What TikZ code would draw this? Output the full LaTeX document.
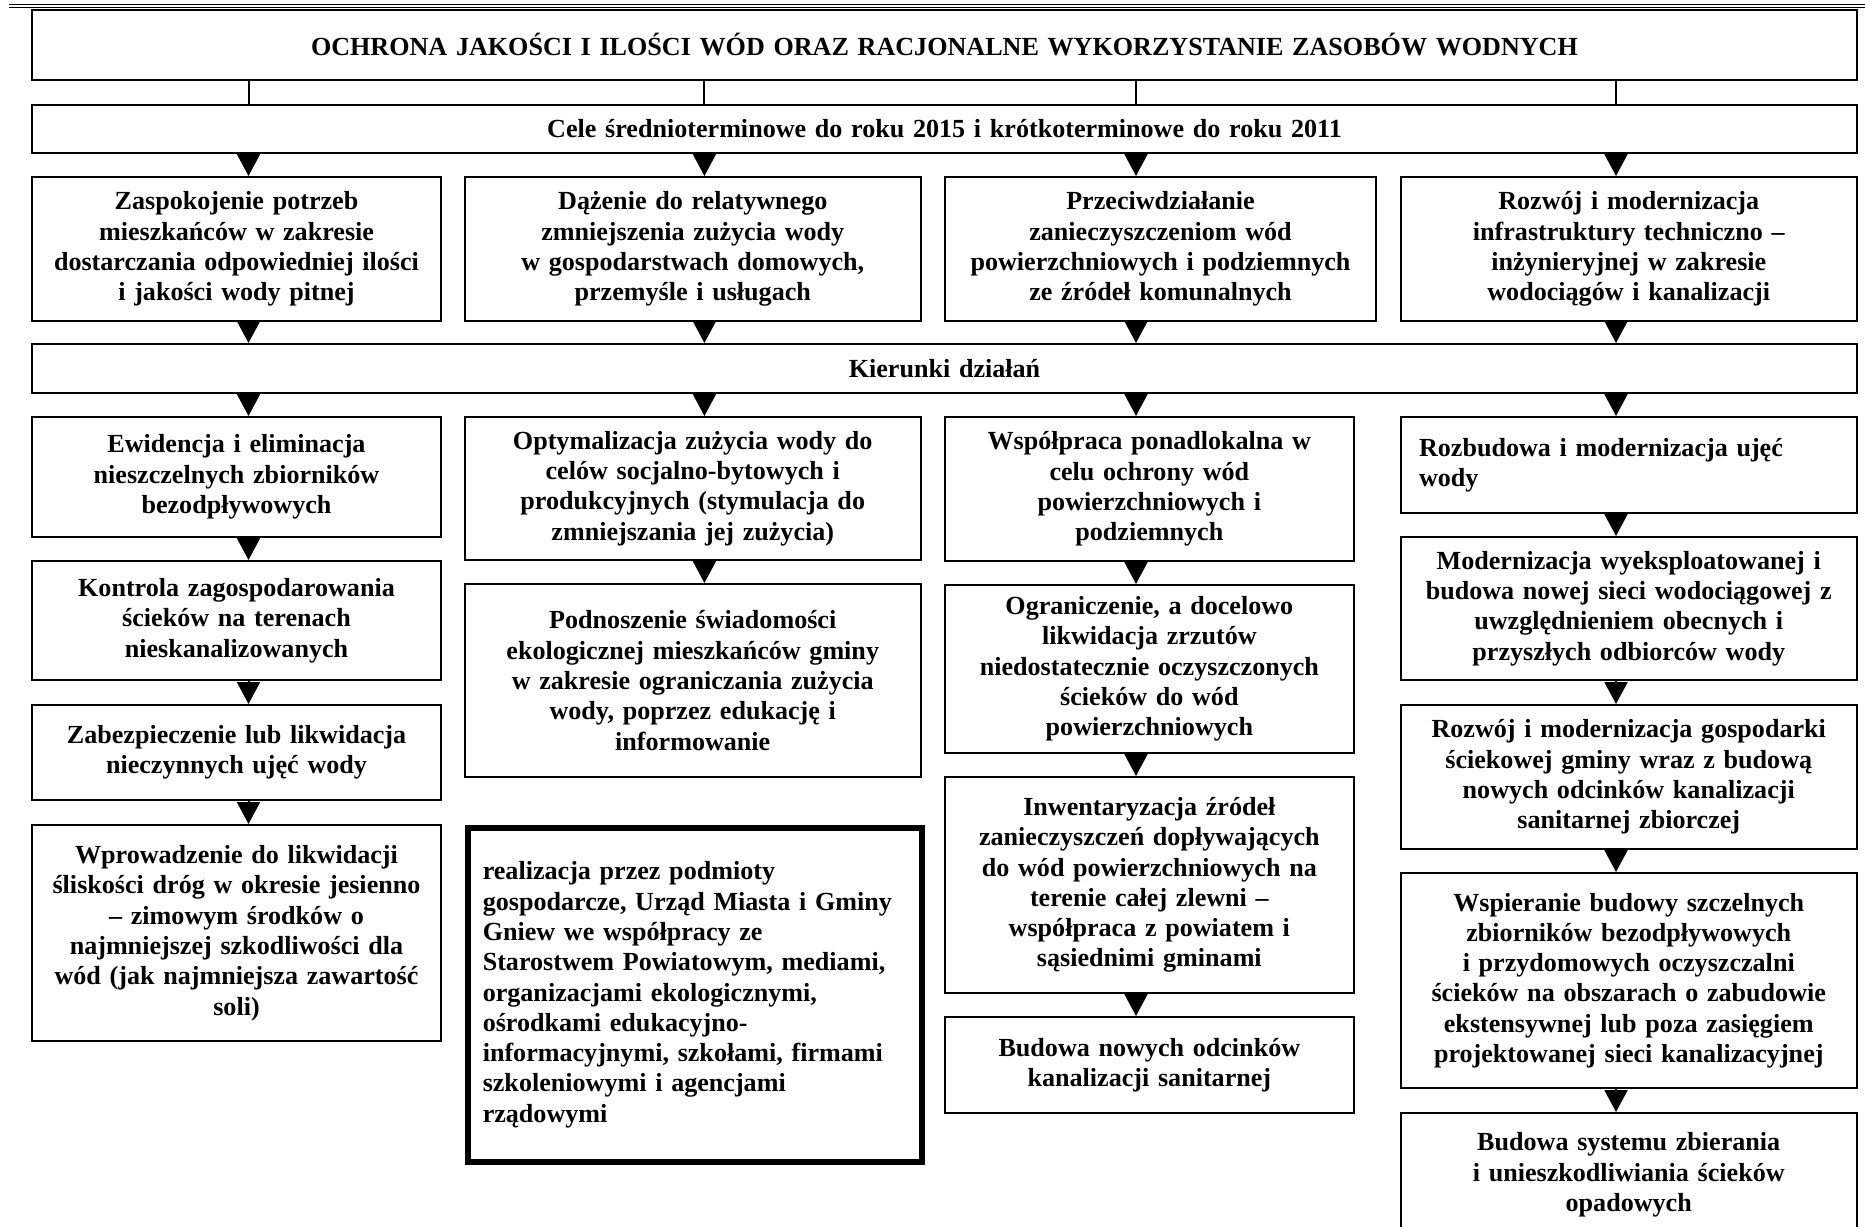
\documentclass[tikz,border=0pt]{standalone}
\usepackage{fontspec}
\setmainfont{Liberation Serif}
\usetikzlibrary{arrows.meta}

\begin{document}
\begin{tikzpicture}[x=1pt,y=-1pt,
		box/.style n args={2}{draw, line width=2pt, anchor=north west, inner sep=0pt, align=center,
			minimum width=#1, text width=#1, minimum height=#2,
			font=\fontsize{26.1}{30.3}\selectfont\bfseries},
		arr/.style={line width=2pt, -{Triangle[width=23pt,length=22pt]}}]
		\path[use as bounding box, clip] (0,0) rectangle (1865,1226);
		\draw[line width=1.6pt] (9,4.5)--(1865,4.5);
		\draw[line width=0.8pt] (9,7)--(1865,7);
		\coordinate (c1) at (248.5,0);
		\coordinate (c2) at (704.4,0);
		\coordinate (c3) at (1136,0);
		\coordinate (c4) at (1616,0);
		% naglowek
		\node[box={1825pt}{70pt}] (ochrona) at (31,9) {OCHRONA JAKOŚCI I ILOŚCI WÓD ORAZ RACJONALNE WYKORZYSTANIE ZASOBÓW WODNYCH};
		\node[box={1825pt}{48pt}] (cele) at (31,104) {Cele średnioterminowe do roku 2015 i krótkoterminowe do roku 2011};
		% cele
		\node[box={409pt}{144pt}] (celA) at (31,176) {Zaspokojenie potrzeb\\ mieszkańców w zakresie\\ dostarczania odpowiedniej ilości\\ i jakości wody pitnej};
		\node[box={456.5pt}{144pt}] (celB) at (463.5,176) {Dążenie do relatywnego\\ zmniejszenia zużycia wody\\ w gospodarstwach domowych,\\ przemyśle i usługach};
		\node[box={431pt}{144pt}] (celC) at (944,176) {Przeciwdziałanie\\ zanieczyszczeniom wód\\ powierzchniowych i podziemnych\\ ze źródeł komunalnych};
		\node[box={455.5pt}{144pt}] (celD) at (1400,176) {Rozwój i modernizacja\\ infrastruktury techniczno –\\ inżynieryjnej w zakresie\\ wodociągów i kanalizacji};
		\node[box={1825pt}{49pt}] (kierunki) at (31,343) {Kierunki działań};
		% kolumna 1
		\node[box={409pt}{120pt}] (ewid) at (31,416) {Ewidencja i eliminacja\\ nieszczelnych zbiorników\\ bezodpływowych};
		\node[box={409pt}{119pt}] (kontr) at (31,560) {Kontrola zagospodarowania\\ ścieków na terenach\\ nieskanalizowanych};
		\node[box={409pt}{95pt}] (zabezp) at (31,704) {Zabezpieczenie lub likwidacja\\ nieczynnych ujęć wody};
		\node[box={409pt}{216pt}] (slisk) at (31,824) {Wprowadzenie do likwidacji\\ śliskości dróg w okresie jesienno\\ – zimowym środków o\\ najmniejszej szkodliwości dla\\ wód (jak najmniejsza zawartość\\ soli)};
		% kolumna 2
		\node[box={456.5pt}{143pt}] (optym) at (463.5,416) {Optymalizacja zużycia wody do\\ celów socjalno-bytowych i\\ produkcyjnych (stymulacja do\\ zmniejszania jej zużycia)};
		\node[box={456.5pt}{193pt}] (swiad) at (463.5,583) {Podnoszenie świadomości\\ ekologicznej mieszkańców gminy\\ w zakresie ograniczania zużycia\\ wody, poprzez edukację i\\ informowanie};
		\node[box={424pt}{334pt}, line width=5.5pt, align=left, inner xsep=15pt] (realiz) at (465,825) {realizacja przez podmioty\\ gospodarcze, Urząd Miasta i Gminy\\ Gniew we współpracy ze\\ Starostwem Powiatowym, mediami,\\ organizacjami ekologicznymi,\\ ośrodkami edukacyjno-\\ informacyjnymi, szkołami, firmami\\ szkoleniowymi i agencjami\\ rządowymi};
		% kolumna 3
		\node[box={408.7pt}{144pt}] (wspol) at (944,416) {Współpraca ponadlokalna w\\ celu ochrony wód\\ powierzchniowych i\\ podziemnych};
		\node[box={408.7pt}{168pt}] (ogran) at (944,584) {Ograniczenie, a docelowo\\ likwidacja zrzutów\\ niedostatecznie oczyszczonych\\ ścieków do wód\\ powierzchniowych};
		\node[box={408.7pt}{216pt}] (inwent) at (944,776) {Inwentaryzacja źródeł\\ zanieczyszczeń dopływających\\ do wód powierzchniowych na\\ terenie całej zlewni –\\ współpraca z powiatem i\\ sąsiednimi gminami};
		\node[box={408.7pt}{96pt}] (budkan) at (944,1016) {Budowa nowych odcinków\\ kanalizacji sanitarnej};
		% kolumna 4
		\node[box={419.5pt}{96pt}, align=left, inner xsep=18pt] (ujecia) at (1400,416) {Rozbudowa i modernizacja ujęć\\ wody};
		\node[box={455.5pt}{143pt}] (siec) at (1400,536) {Modernizacja wyeksploatowanej i\\ budowa nowej sieci wodociągowej z\\ uwzględnieniem obecnych i\\ przyszłych odbiorców wody};
		\node[box={455.5pt}{144pt}] (gosp) at (1400,704) {Rozwój i modernizacja gospodarki\\ ściekowej gminy wraz z budową\\ nowych odcinków kanalizacji\\ sanitarnej zbiorczej};
		\node[box={455.5pt}{215pt}] (szczel) at (1400,872) {Wspieranie budowy szczelnych\\ zbiorników bezodpływowych\\ i przydomowych oczyszczalni\\ ścieków na obszarach o zabudowie\\ ekstensywnej lub poza zasięgiem\\ projektowanej sieci kanalizacyjnej};
		\node[box={455.5pt}{124pt}] (opad) at (1400,1112) {Budowa systemu zbierania\\ i unieszkodliwiania ścieków\\ opadowych};
		% polaczenia
		\draw[line width=2pt] (ochrona.south -| c1)--(cele.north -| c1);
		\draw[line width=2pt] (ochrona.south -| c2)--(cele.north -| c2);
		\draw[line width=2pt] (ochrona.south -| c3)--(cele.north -| c3);
		\draw[line width=2pt] (ochrona.south -| c4)--(cele.north -| c4);
		\draw[arr] (cele.south -| c1)--(celA.north -| c1);
		\draw[arr] (cele.south -| c2)--(celB.north -| c2);
		\draw[arr] (cele.south -| c3)--(celC.north -| c3);
		\draw[arr] (cele.south -| c4)--(celD.north -| c4);
		\draw[arr] (celA.south -| c1)--(kierunki.north -| c1);
		\draw[arr] (celB.south -| c2)--(kierunki.north -| c2);
		\draw[arr] (celC.south -| c3)--(kierunki.north -| c3);
		\draw[arr] (celD.south -| c4)--(kierunki.north -| c4);
		\draw[arr] (kierunki.south -| c1)--(ewid.north -| c1);
		\draw[arr] (kierunki.south -| c2)--(optym.north -| c2);
		\draw[arr] (kierunki.south -| c3)--(wspol.north -| c3);
		\draw[arr] (kierunki.south -| c4)--(ujecia.north -| c4);
		\draw[arr] (ewid.south -| c1)--(kontr.north -| c1);
		\draw[arr] (kontr.south -| c1)--(zabezp.north -| c1);
		\draw[arr] (zabezp.south -| c1)--(slisk.north -| c1);
		\draw[arr] (optym.south -| c2)--(swiad.north -| c2);
		\draw[arr] (wspol.south -| c3)--(ogran.north -| c3);
		\draw[arr] (ogran.south -| c3)--(inwent.north -| c3);
		\draw[arr] (inwent.south -| c3)--(budkan.north -| c3);
		\draw[arr] (ujecia.south -| c4)--(siec.north -| c4);
		\draw[arr] (siec.south -| c4)--(gosp.north -| c4);
		\draw[arr] (gosp.south -| c4)--(szczel.north -| c4);
		\draw[arr] (szczel.south -| c4)--(opad.north -| c4);
	\end{tikzpicture}
\end{document}
